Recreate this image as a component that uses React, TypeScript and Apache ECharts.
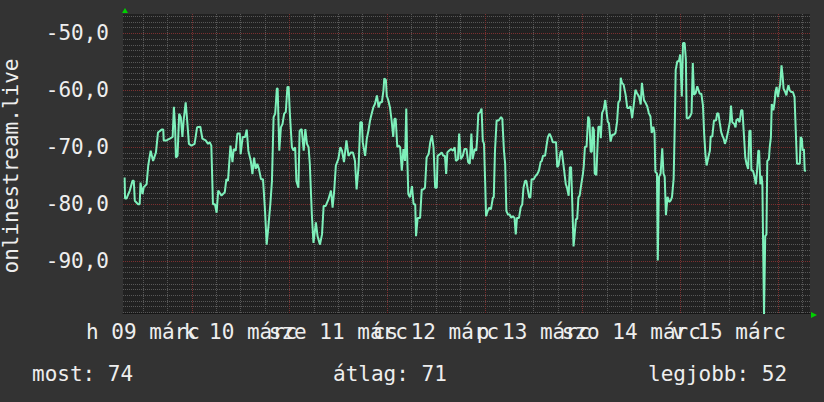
import React, { useEffect, useRef } from "react";
import * as echarts from "echarts";

// hours since 2015-03-09 00:00
const times = [
  7.5, 7.6, 7.95, 8.77, 9.43, 9.75, 10.0, 10.8, 11.2, 11.4, 11.9, 12.2, 12.9, 13.3, 13.9, 14.5, 15.2, 15.7, 16.6, 17.0,
  17.1, 17.8, 18.6, 19.3, 19.6, 19.9, 20.1, 20.5, 20.9, 21.3, 21.7, 22.0, 22.5, 22.9, 23.3, 23.9, 24.7, 25.3, 26.1, 26.6,
  27.4, 28.0, 28.4, 28.8, 29.2, 29.7, 30.1, 30.5, 31.3, 32.1, 32.5, 32.9, 33.5, 34.0, 34.3,
  34.8, 35.2, 35.8, 36.0, 36.5, 37.1, 37.5, 37.9, 38.5, 38.9, 39.3, 39.7, 40.1, 40.5, 41.0, 41.5, 42.0, 42.4, 42.8, 43.3,
  43.7, 44.1, 44.5, 44.9, 45.1, 45.5, 45.9, 46.3, 46.7, 47.1, 47.5, 47.8, 48.1, 48.6, 49.0, 49.4, 49.7, 50.2, 50.5, 51.0,
  51.5, 51.9, 52.3, 52.7, 53.0, 53.5, 53.9, 54.5, 54.9, 55.5, 56.0, 56.4, 56.9, 57.6, 58.2, 58.6, 59.0, 59.4, 60.0, 60.5,
  60.9, 61.4, 62.0, 62.5, 63.1, 63.6,
  64.1, 64.5, 65.0, 65.4, 65.8, 66.0, 66.6, 67.0, 67.4, 67.8, 68.2, 68.6, 69.0, 69.5, 69.9, 70.3, 70.7, 71.1, 71.3, 71.7,
  71.9, 72.3, 72.7, 73.1, 73.5, 73.8, 74.1, 74.5, 74.8, 75.2, 75.6, 76.0, 76.4, 76.7, 76.9, 77.2, 77.6, 78.1, 78.5, 78.9,
  79.1, 79.5, 80.1, 80.5, 80.9, 81.3, 81.7, 82.2, 82.6, 83.0, 83.4, 83.8, 84.2, 84.4, 85.0, 85.4, 85.8, 86.2, 86.5, 86.8,
  87.2, 87.7, 88.2, 88.6, 88.9, 89.4, 89.7, 90.1, 90.6, 91.0, 91.5, 91.9, 92.3, 92.7,
  93.0, 93.5, 93.9, 94.1, 94.4, 94.9, 95.2, 95.5, 95.8, 96.1, 96.3, 96.7, 97.1, 97.5, 98.0, 98.2, 98.5, 98.9, 99.4, 99.7,
  100.0, 100.3, 100.7, 101.0, 101.3, 101.7, 102.1, 102.5, 102.9, 103.3, 103.6, 103.9, 104.4, 104.8, 105.2, 105.5, 105.9,
  106.2, 106.6, 106.9, 107.2, 107.5, 108.0, 108.5, 108.9, 109.3, 109.7, 110.0, 110.3, 110.8, 111.1, 111.5, 111.9, 112.3,
  112.7, 113.1, 113.5, 113.8, 114.1, 114.6, 114.9, 115.3, 115.6, 115.9, 116.2, 116.6, 116.9, 117.2, 117.5, 117.8, 118.0,
  118.4, 118.7, 119.0, 119.3, 119.7, 120.1,
  120.3, 120.6, 121.0, 121.4, 121.7, 122.0, 122.3, 122.5, 122.8, 123.0, 123.4, 123.6, 123.9, 124.3, 124.5, 124.8, 125.2,
  125.6, 125.9, 126.2, 126.5, 126.9, 127.3, 127.7, 128.1, 128.5, 128.8, 129.2, 129.4, 129.7, 130.1, 130.6, 131.0, 131.4,
  131.8, 132.2, 132.6, 133.0, 133.4, 133.9, 134.3, 134.6, 135.1, 135.5, 135.9, 136.3, 136.7, 137.0, 137.4, 137.7, 137.9,
  138.3, 138.5, 138.8, 139.2, 139.6, 139.9, 140.2, 140.5, 140.9, 141.3, 141.7, 142.0, 142.4, 142.7, 142.9, 143.3, 143.7,
  144.0, 144.4, 144.7, 145.1, 145.4, 145.6, 146.0, 146.4, 146.8, 147.1, 147.4, 147.8, 148.2,
  148.8, 149.2, 149.6, 149.9, 150.2, 150.5, 150.9, 151.3, 151.5, 151.9, 152.3, 152.8, 153.1, 153.4, 153.7, 154.1, 154.4,
  154.7, 155.0, 155.4, 155.8, 156.2, 156.5, 156.8, 157.3, 157.6, 157.8, 158.2, 158.6, 159.0, 159.3, 159.6, 160.0, 160.3,
  160.7, 161.0, 161.3, 161.5, 161.9, 162.3, 162.6, 162.9, 163.2, 163.4, 163.7, 164.0, 164.2, 164.6, 164.9, 165.2, 165.4,
  165.8, 166.0, 166.3, 166.5, 166.9, 167.2, 167.4, 167.7, 168.0, 168.3, 168.6, 168.9, 169.2, 169.4, 169.8, 170.1, 170.3,
  170.6, 170.9, 171.3, 171.7, 172.1, 172.4, 172.7, 173.0, 173.4, 173.6, 173.9, 174.1, 174.4, 174.6, 174.9,
];

const values = [
  -75.3, -79.0, -79.0, -77.6, -75.9, -75.9, -79.4, -80.0, -80.0, -76.2, -78.2, -77.0, -76.5, -73.2, -70.6, -72.4, -70.9, -67.4, -66.9, -66.9,
  -68.8, -68.8, -68.5, -68.2, -62.9, -66.5, -71.8, -71.5, -64.1, -64.7, -68.2, -65.3, -62.1, -65.6, -69.4, -69.7, -69.4, -66.5, -66.4, -68.5,
  -68.8, -69.4, -69.1, -69.7, -80.0, -80.0, -81.5, -77.6, -78.5, -77.9, -75.6, -75.9, -69.7, -72.6, -70.3,
  -70.6, -67.6, -67.6, -71.2, -68.2, -68.2, -66.9, -70.6, -72.4, -74.7, -71.8, -73.8, -72.9, -73.8, -75.6, -75.6, -81.2, -87.1, -84.1, -80.0,
  -75.9, -64.7, -64.1, -59.7, -59.7, -70.6, -66.5, -65.9, -64.1, -63.8, -59.4, -59.4, -64.1, -70.0, -70.6, -70.0, -75.9, -77.1, -67.1, -66.8,
  -70.6, -66.8, -69.4, -70.0, -72.9, -81.8, -86.8, -83.2, -85.6, -87.1, -85.3, -80.3, -80.3, -79.1, -77.6, -80.6, -77.6, -73.2, -72.1, -70.0,
  -70.6, -72.6, -68.8, -71.5, -70.9, -70.9,
  -72.4, -77.4, -73.2, -65.6, -65.6, -69.1, -71.5, -68.5, -67.1, -65.3, -64.1, -63.0, -62.4, -60.9, -63.0, -62.1, -62.1, -60.0, -57.9, -58.2,
  -60.9, -61.8, -63.0, -65.3, -68.2, -65.0, -65.0, -70.0, -69.7, -70.0, -74.1, -70.3, -72.4, -63.2, -70.6, -78.2, -78.8, -76.8, -80.0, -80.0,
  -85.6, -82.4, -82.4, -77.4, -77.4, -77.1, -71.8, -71.2, -69.1, -67.9, -70.0, -77.1, -77.1, -71.5, -71.2, -70.9, -71.5, -71.5, -74.7, -70.9,
  -70.6, -70.3, -70.6, -70.0, -72.4, -72.1, -67.6, -72.1, -71.5, -70.3, -70.3, -72.6, -72.9, -67.6,
  -72.1, -70.3, -70.6, -68.8, -64.1, -63.8, -63.2, -68.8, -69.4, -76.5, -82.1, -81.2, -80.6, -80.9, -78.8, -78.8, -70.6, -65.3, -65.3, -65.0,
  -64.7, -65.0, -70.6, -72.9, -81.2, -81.8, -81.8, -82.4, -82.1, -82.4, -85.3, -82.4, -82.4, -80.6, -80.0, -77.1, -75.9,
  -75.9, -77.6, -78.8, -78.8, -75.6, -75.6, -75.0, -74.7, -74.1, -72.6, -72.4, -71.5, -71.5, -70.0, -68.2, -67.6, -68.2,
  -69.1, -69.1, -69.1, -73.5, -73.2, -70.9, -70.6, -72.9, -74.7, -76.5, -77.1, -78.5, -73.5, -73.5, -80.0, -87.4, -85.9,
  -82.6, -82.6, -78.8, -78.5, -76.5, -74.7,
  -73.4, -69.9, -69.9, -64.6, -65.2, -70.8, -70.8, -66.4, -67.0, -74.6, -74.9, -71.4, -66.4, -66.4, -68.4, -64.0, -63.4,
  -61.7, -63.7, -65.5, -65.8, -69.0, -67.8, -67.8, -67.5, -65.5, -62.2, -61.7, -57.8, -58.7, -59.0, -60.8, -63.1, -63.1,
  -62.8, -64.9, -62.5, -59.9, -60.5, -61.1, -62.5, -58.7, -61.7, -62.2, -62.8, -64.0, -64.6, -67.5, -66.4, -67.5, -74.3,
  -74.6, -89.9, -75.2, -74.6, -70.2, -74.6, -75.2, -81.9, -78.7, -79.6, -79.3, -78.7, -75.5, -65.2, -56.4, -54.9, -54.9,
  -53.7, -61.1, -51.7, -51.7, -54.6, -64.9, -64.9, -64.6, -64.0, -55.2, -60.8, -60.5, -59.3,
  -60.6, -60.6, -62.7, -67.7, -71.2, -73.2, -71.8, -70.6, -68.1, -68.1, -65.3, -65.3, -64.0, -64.1, -65.6, -67.4, -68.0,
  -68.5, -69.4, -68.5, -67.1, -65.6, -62.7, -65.6, -65.9, -66.5, -65.3, -65.0, -65.6, -63.5, -63.5, -67.1, -71.8, -72.9,
  -73.8, -67.1, -67.1, -74.1, -74.1, -75.3, -76.5, -74.1, -70.6, -70.6, -76.5, -75.0, -76.5, -99.4, -85.6, -85.3, -72.4,
  -72.1, -70.0, -68.2, -62.4, -63.5, -62.1, -60.3, -59.4, -61.2, -60.0, -58.8, -55.6, -57.7, -59.7, -60.3, -60.9, -60.0,
  -59.1, -60.0, -60.3, -60.3, -61.2, -67.1, -72.9, -72.9, -72.9, -68.2, -68.5, -70.6, -70.3, -74.1, -74.2,
];

// x label positions: noon of each day (hours since 09 Mar 00:00); split over two axes
const dayNoonsA = [12, 60, 108, 156];
const dayLabelsA = ["h 09 márc", "sze 11 márc", "p 13 márc", "v 15 márc"];
const dayNoonsB = [36, 84, 132];
const dayLabelsB = ["k 10 márc", "cs 12 márc", "szo 14 márc"];
const yTicks = [-90, -80, -70, -60, -50];
// grid every 6 hours (from 12:00 on 09 Mar) and every 1 unit
const xGridHours: number[] = [];
for (let h = 12; h <= 174; h += 6) xGridHours.push(h);
const yGridValues: number[] = [];
for (let v = -99; v <= -47; v++) yGridValues.push(v);

const summary = { most: "most: 74", atlag: "átlag: 71", legjobb: "legjobb: 52" };
const yTitle = "onlinestream.live";

const X_MIN = 7.1;
const X_MAX = 175.9;
const Y_MIN = -99.1;
const Y_MAX = -46.6;

const FONT = "DejaVu Sans Mono";
const TEXT = "#eeeeee";
const MINOR = "#575757";
const MAJOR = "#7c3030";

export default function App() {
  const ref = useRef<HTMLDivElement>(null);
  useEffect(() => {
    if (!ref.current) return;
    const chart = echarts.init(ref.current, undefined, { renderer: "svg" });
    const xColors = xGridHours.map((h) => (h % 24 === 0 ? MAJOR : MINOR));
    const yColors = yGridValues.map((v) => (v % 10 === 0 ? MAJOR : MINOR));
    const labelBase = {
      hideOverlap: false,
      showMinLabel: true,
      showMaxLabel: true,
      margin: 8,
      color: TEXT,
      fontFamily: FONT,
      fontSize: 21,
    };
    chart.setOption({
      animation: false,
      backgroundColor: "#333333",
      grid: {
        left: 123,
        top: 14,
        width: 687,
        height: 299,
        show: true,
        backgroundColor: "#212121",
        borderWidth: 0,
        containLabel: false,
        outerBoundsMode: "none",
      },
      xAxis: [
        {
          type: "value",
          min: X_MIN,
          max: X_MAX,
          axisTick: { show: false, customValues: xGridHours },
          splitLine: { show: true, lineStyle: { color: xColors, width: 1, type: [1, 1] } },
          axisLine: { show: true, onZero: false, lineStyle: { color: "#161616", width: 1 } },
          axisLabel: {
            ...labelBase,
            customValues: dayNoonsA,
            formatter: (v: number) => {
              const i = dayNoonsA.indexOf(Math.round(v));
              return i >= 0 ? dayLabelsA[i] : "";
            },
          },
        },
        {
          type: "value",
          position: "bottom",
          min: X_MIN,
          max: X_MAX,
          axisTick: { show: false },
          splitLine: { show: false },
          axisLine: { show: false, onZero: false },
          axisLabel: {
            ...labelBase,
            customValues: dayNoonsB,
            formatter: (v: number) => {
              const i = dayNoonsB.indexOf(Math.round(v));
              return i >= 0 ? dayLabelsB[i] : "";
            },
          },
        },
      ],
      yAxis: {
        type: "value",
        min: Y_MIN,
        max: Y_MAX,
        axisTick: { show: false, customValues: yGridValues },
        splitLine: { show: true, lineStyle: { color: yColors, width: 1, type: [1, 1] } },
        axisLine: { show: false },
        axisLabel: {
          ...labelBase,
          customValues: yTicks,
          margin: 14,
          formatter: (v: number) => v.toFixed(1).replace(".", ","),
        },
      },
      series: [
        {
          type: "line",
          xAxisIndex: 0,
          data: times.map((t, i) => [t, values[i]]),
          showSymbol: false,
          symbol: "none",
          z: 3,
          clip: true,
          lineStyle: { color: "#7ef0bb", width: 2 },
        },
      ],
      graphic: [
        {
          type: "text",
          x: 11,
          y: 166,
          rotation: Math.PI / 2,
          style: { text: yTitle, fill: TEXT, font: `21px "${FONT}"`, align: "center", verticalAlign: "middle" },
        },
        {
          type: "text",
          x: 32,
          y: 374,
          style: { text: summary.most, fill: TEXT, font: `21px "${FONT}"`, align: "left", verticalAlign: "middle" },
        },
        {
          type: "text",
          x: 333,
          y: 374,
          style: { text: summary.atlag, fill: TEXT, font: `21px "${FONT}"`, align: "left", verticalAlign: "middle" },
        },
        {
          type: "text",
          x: 648,
          y: 374,
          style: { text: summary.legjobb, fill: TEXT, font: `21px "${FONT}"`, align: "left", verticalAlign: "middle" },
        },
        {
          type: "polygon",
          shape: { points: [[122, 13], [128, 13], [125, 8]] },
          style: { fill: "#00d000" },
        },
        {
          type: "polygon",
          shape: { points: [[811, 312], [811, 318], [817, 315]] },
          style: { fill: "#00d000" },
        },
      ],
    });
    return () => chart.dispose();
  }, []);
  return <div ref={ref} style={{ position: "fixed", left: 0, top: 0, width: 824, height: 402 }} />;
}
